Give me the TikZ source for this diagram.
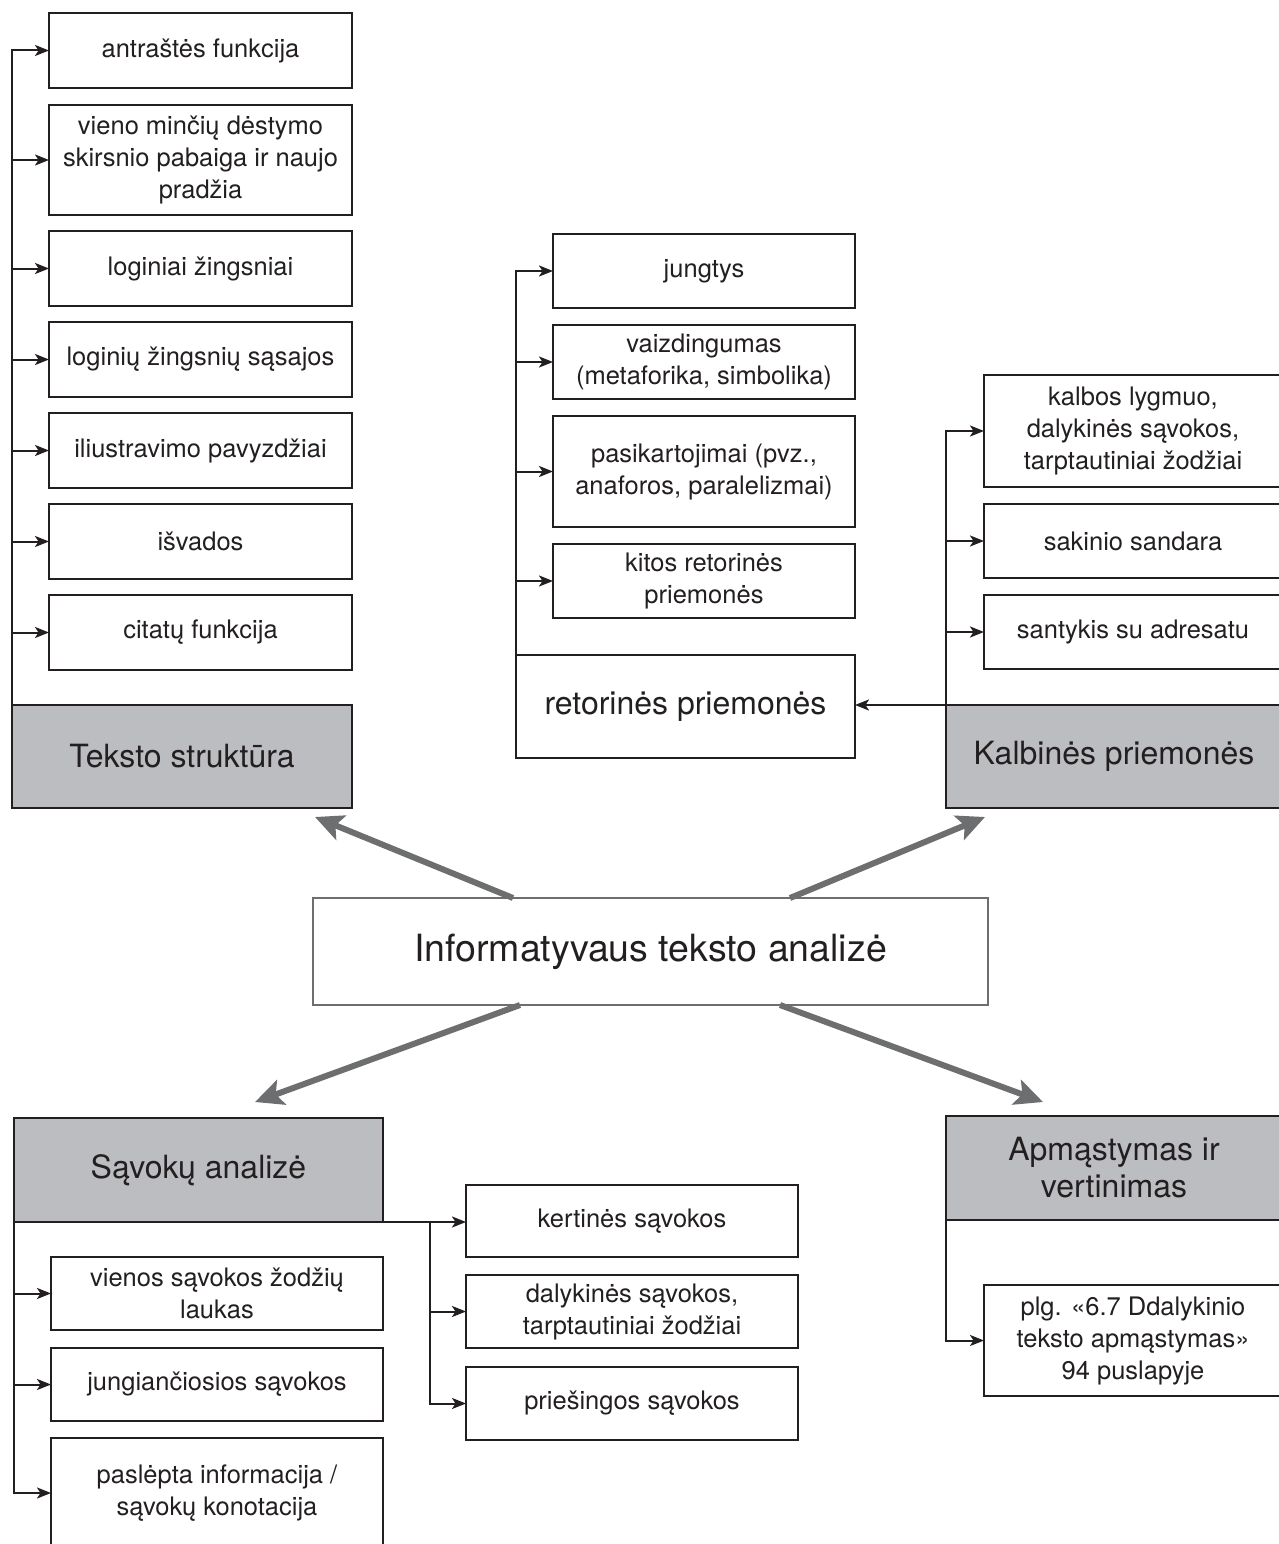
\documentclass[tikz,border=0pt]{standalone}
\usepackage{fontspec}
\setmainfont{TeX Gyre Heros}
\usepackage{tikz}
\usetikzlibrary{positioning}
\usetikzlibrary{arrows.meta}
\definecolor{headgray}{HTML}{BCBDC0}
\definecolor{linedark}{HTML}{231F20}
\definecolor{arrowgray}{HTML}{6D6E70}

\begin{document}
\begin{tikzpicture}[x=1pt, y=-1pt, every node/.style={outer sep=0pt},
    leaf/.style={draw=linedark, line width=2pt, text=linedark, align=center, inner sep=0pt, minimum width=#1, minimum height=74pt, font=\fontsize{25.5}{32}\selectfont},
    leaf/.default=303pt,
    head/.style={draw=linedark, line width=2pt, fill=headgray, text=linedark, align=center, inner sep=0pt, minimum height=103pt, font=\fontsize{32}{37}\selectfont},
    link/.style={draw=linedark, line width=2pt, -{Stealth[length=14pt, width=11pt, inset=3.5pt]}},
    bigarrow/.style={draw=arrowgray, line width=6pt, -{Stealth[length=28pt, width=26pt, inset=6pt]}}]
    \useasboundingbox[fill=white] (0,0) rectangle (1279,1544);

    % Teksto struktura
    \node [head, anchor=north west, minimum width=340pt] (ts) at (12,705) {Teksto struktūra};
    \node [leaf, anchor=north west, minimum height=75pt] (antr) at (49,13) {antraštės funkcija};
    \node [leaf, below=17pt of antr, minimum height=110pt] (skirs) {vieno minčių dėstymo\\skirsnio pabaiga ir naujo\\pradžia};
    \node [leaf, below=16pt of skirs, minimum height=75pt] (logz) {loginiai žingsniai};
    \node [leaf, below=16pt of logz, minimum height=75pt] (sasaj) {loginių žingsnių sąsajos};
    \node [leaf, below=16pt of sasaj, minimum height=75pt] (iliustr) {iliustravimo pavyzdžiai};
    \node [leaf, below=16pt of iliustr, minimum height=75pt] (isvad) {išvados};
    \node [leaf, below=16pt of isvad, minimum height=75pt] (citat) {citatų funkcija};

    % retorines priemones
    \node [head, fill=white, anchor=north west, minimum width=339pt] (ret) at (516,655) {retorinės priemonės};
    \node [leaf=302pt, anchor=north west] (jung) at (553,234) {jungtys};
    \node [leaf=302pt, below=17pt of jung] (vaizd) {vaizdingumas\\(metaforika, simbolika)};
    \node [leaf=302pt, below=17pt of vaizd, minimum height=111pt] (pasik) {pasikartojimai (pvz.,\\anaforos, paralelizmai)};
    \node [leaf=302pt, below=17pt of pasik] (kitos) {kitos retorinės\\priemonės};

    % Kalbines priemones
    \node [head, anchor=north west, minimum width=336pt] (kalb) at (946,705) {Kalbinės priemonės};
    \node [leaf=298pt, anchor=north west, minimum height=112pt] (lygm) at (984,375) {kalbos lygmuo,\\dalykinės sąvokos,\\tarptautiniai žodžiai};
    \node [leaf=298pt, below=17pt of lygm] (sakin) {sakinio sandara};
    \node [leaf=298pt, below=17pt of sakin] (santyk) {santykis su adresatu};

    \node [draw=arrowgray, line width=2pt, text=linedark, inner sep=0pt, anchor=north west, minimum width=675pt, minimum height=107pt, font=\fontsize{37.5}{44}\selectfont] (info) at (313,898) {Informatyvaus teksto analizė};

    % Savoku analize
    \node [head, anchor=north west, minimum width=369pt, minimum height=104pt] (sav) at (14,1118) {Sąvokų analizė};
    \node [leaf=332pt, anchor=north west, minimum height=73pt] (lauk) at (51,1257) {vienos sąvokos žodžių\\laukas};
    \node [leaf=332pt, below=18pt of lauk, minimum height=73pt] (jungs) {jungiančiosios sąvokos};
    \node [leaf=332pt, below=17pt of jungs, minimum height=110pt] (pasl) {paslėpta informacija /\\sąvokų konotacija};
    \node [leaf=332pt, anchor=north west, minimum height=72pt] (kert) at (466,1185) {kertinės sąvokos};
    \node [leaf=332pt, below=18pt of kert, minimum height=73pt] (daly) {dalykinės sąvokos,\\tarptautiniai žodžiai};
    \node [leaf=332pt, below=19pt of daly, minimum height=73pt] (pries) {priešingos sąvokos};
    \coordinate [right=47pt of sav.south east] (savfork);

    % Apmastymas ir vertinimas
    \node [head, anchor=north west, minimum width=336pt, minimum height=104pt] (apm) at (946,1116) {Apmąstymas ir\\vertinimas};
    \node [leaf=298pt, anchor=north west, minimum height=111pt] (plg) at (984,1285) {plg. «6.7 Ddalykinio\\teksto apmąstymas»\\94 puslapyje};

    \draw [link] (ts.north west) |- (antr);
    \draw [link] (ts.north west) |- (skirs);
    \draw [link] (ts.north west) |- (logz);
    \draw [link] (ts.north west) |- (sasaj);
    \draw [link] (ts.north west) |- (iliustr);
    \draw [link] (ts.north west) |- (isvad);
    \draw [link] (ts.north west) |- (citat);

    \draw [link] (ret.north west) |- (jung);
    \draw [link] (ret.north west) |- (vaizd);
    \draw [link] (ret.north west) |- (pasik);
    \draw [link] (ret.north west) |- (kitos);

    \draw [link] (kalb.north west) |- (lygm);
    \draw [link] (kalb.north west) |- (sakin);
    \draw [link] (kalb.north west) |- (santyk);
    \draw [link] (kalb.north west) -- (kalb.north west -| ret.east);

    \draw [link] (sav.south west) |- (lauk);
    \draw [link] (sav.south west) |- (jungs);
    \draw [link] (sav.south west) |- (pasl);
    \draw [link] (sav.south east) -- (sav.south east -| kert.west);
    \draw [link] (savfork) |- (daly);
    \draw [link] (savfork) |- (pries);

    \draw [link] (apm.south west) |- (plg);

    \draw [bigarrow] ([xshift=200pt]info.north west) -- ([xshift=-37pt, yshift=-9pt]ts.south east);
    \draw [bigarrow] ([xshift=-198pt]info.north east) -- ([xshift=39pt, yshift=-9pt]kalb.south west);
    \draw [bigarrow] ([xshift=207pt]info.south west) -- ([xshift=-128pt, yshift=16pt]sav.north east);
    \draw [bigarrow] ([xshift=-208pt]info.south east) -- ([xshift=97pt, yshift=14pt]apm.north west);
\end{tikzpicture}
\end{document}
